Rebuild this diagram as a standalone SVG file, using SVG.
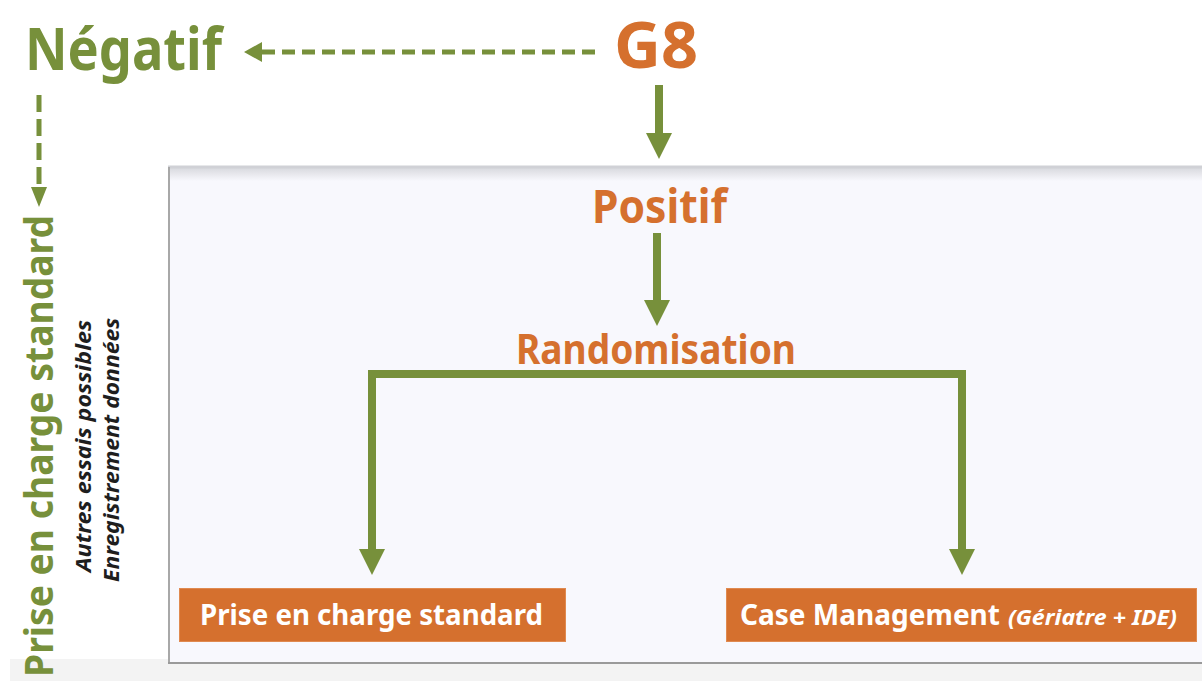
<svg xmlns="http://www.w3.org/2000/svg" width="1202" height="681" viewBox="0 0 1202 681">
<style>
.t{font-family:"Noto Sans","Liberation Sans",sans-serif;font-weight:bold}
.g{fill:#77903b}
.o{fill:#d5702e}
.w{fill:#ffffff}
.k{fill:#1e1e1e;font-style:italic}
.box{fill:#d5702e;stroke:#e08a50;stroke-width:1}
.solid{fill:none;stroke:#77903b;stroke-width:8}
.dash{fill:none;stroke:#77903b;stroke-width:5}
</style>
<defs>
<marker id="head" markerUnits="userSpaceOnUse" markerWidth="26" markerHeight="26" viewBox="0 0 26 26" refX="1" refY="13" orient="auto-start-reverse"><path d="M0,0 L26,13 L0,26 z" fill="#77903b"/></marker>
<marker id="headH" markerUnits="userSpaceOnUse" markerWidth="18" markerHeight="20" viewBox="0 0 18 20" refX="1" refY="10" orient="auto"><path d="M0,0 L18,10 L0,20 z" fill="#77903b"/></marker>
<marker id="headV" markerUnits="userSpaceOnUse" markerWidth="20" markerHeight="16" viewBox="0 0 20 16" refX="1" refY="8" orient="auto"><path d="M0,0 L20,8 L0,16 z" fill="#77903b"/></marker>
<linearGradient id="topg" x1="0" y1="0" x2="0" y2="1"><stop offset="0" stop-color="#d6d7dc"/><stop offset="1" stop-color="#f8f8fd"/></linearGradient>
</defs>
<rect width="1202" height="681" fill="#ffffff"/>
<g id="background">
<rect x="10" y="659" width="1192" height="22" fill="#f3f3f3"/>
<rect x="168" y="167" width="1034" height="496" fill="#f8f8fd"/>
<rect x="168" y="167" width="1034" height="14" fill="url(#topg)"/>
<line x1="168" y1="167" x2="1202" y2="167" stroke="#d0d1d6" stroke-width="3"/>
<line x1="169" y1="167" x2="169" y2="663" stroke="#a8a8a8" stroke-width="2"/>
<line x1="168" y1="663" x2="1202" y2="663" stroke="#9a9a9a" stroke-width="2"/>
</g>
<g id="connectors">
<line class="dash" x1="595" y1="52" x2="261" y2="52" stroke-dasharray="13 7" marker-end="url(#headH)"/>
<line class="dash" x1="39" y1="95" x2="39" y2="188" stroke-dasharray="17 7" marker-end="url(#headV)"/>
<line class="solid" x1="659" y1="85" x2="659" y2="134" marker-end="url(#head)"/>
<line class="solid" x1="657" y1="233" x2="657" y2="301" marker-end="url(#head)"/>
<path class="solid" d="M372,550 V374 H962 V550" marker-start="url(#head)" marker-end="url(#head)"/>
</g>
<g id="negatif"><text class="t g" x="25" y="70" font-size="60" textLength="197" lengthAdjust="spacingAndGlyphs">Négatif</text></g>
<g id="g8"><text class="t o" x="614" y="68" font-size="65" textLength="84" lengthAdjust="spacingAndGlyphs">G8</text></g>
<g id="positif"><text class="t o" x="592" y="223" font-size="46" textLength="135" lengthAdjust="spacingAndGlyphs">Positif</text></g>
<g id="randomisation"><text class="t o" x="516" y="364" font-size="41" textLength="280" lengthAdjust="spacingAndGlyphs">Randomisation</text></g>
<g id="standard-left">
<text class="t g" transform="translate(53,677) rotate(-90)" font-size="40" textLength="462" lengthAdjust="spacingAndGlyphs">Prise en charge standard</text>
<text class="t k" transform="translate(91,572) rotate(-90)" font-size="22" textLength="252" lengthAdjust="spacingAndGlyphs">Autres essais possibles</text>
<text class="t k" transform="translate(119,582) rotate(-90)" font-size="22" textLength="264" lengthAdjust="spacingAndGlyphs">Enregistrement données</text>
</g>
<g id="box-standard">
<rect class="box" x="179.5" y="588.5" width="386" height="53"/>
<text class="t w" x="200" y="625" font-size="28" textLength="343" lengthAdjust="spacingAndGlyphs">Prise en charge standard</text>
</g>
<g id="box-case">
<rect class="box" x="726.5" y="588.5" width="470" height="53"/>
<text class="t w" x="740" y="625" font-size="28"><tspan textLength="260" lengthAdjust="spacingAndGlyphs">Case Management</tspan><tspan x="1008" font-size="21" font-style="italic" textLength="169" lengthAdjust="spacingAndGlyphs">(Gériatre + IDE)</tspan></text>
</g>
</svg>
